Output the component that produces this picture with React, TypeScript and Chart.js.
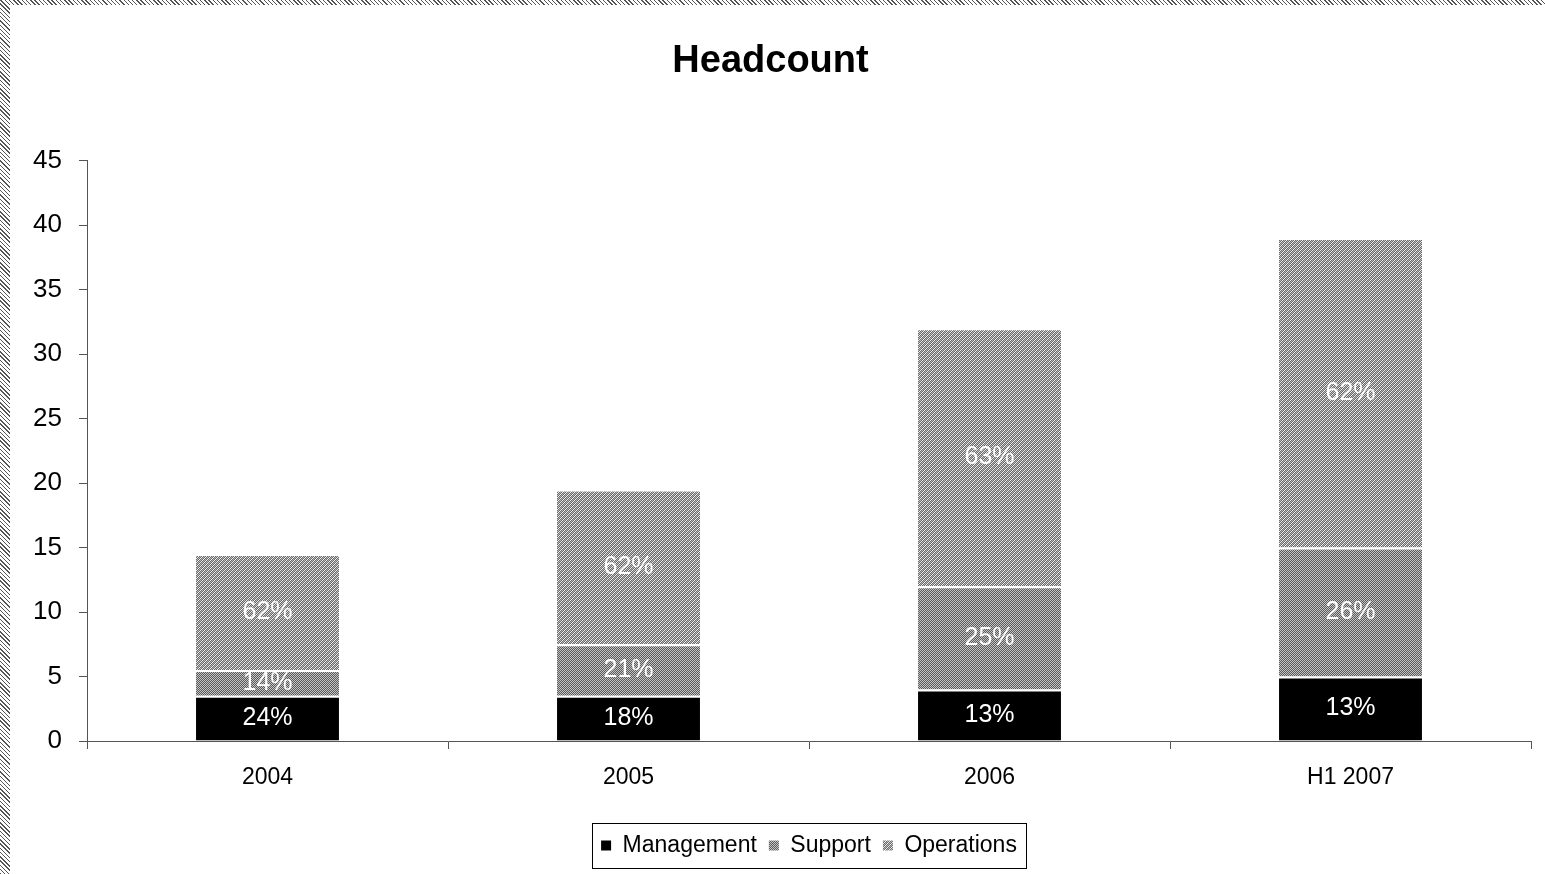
import React, { useEffect, useRef } from "react";
import { Chart, registerables } from "chart.js";

Chart.register(...registerables);

const categories = ["2004", "2005", "2006", "H1 2007"];
const management = [3.5, 3.5, 4, 5];
const support = [2, 4, 8, 10];
const operations = [9, 12, 20, 24];
const managementPct = ["24%", "18%", "13%", "13%"];
const supportPct = ["14%", "21%", "25%", "26%"];
const operationsPct = ["62%", "62%", "63%", "62%"];
const pctLabels = [managementPct, supportPct, operationsPct];

const FONT = '"Liberation Sans", Arial, sans-serif';

function makePattern(kind: "support" | "ops"): CanvasPattern | string {
  const c = document.createElement("canvas");
  const n = 4;
  c.width = n;
  c.height = n;
  const g = c.getContext("2d");
  if (!g) return "#999";
  for (let y = 0; y < n; y++) {
    for (let x = 0; x < n; x++) {
      let col: string;
      if (kind === "support") {
        col = (x + y) % 2 === 0 ? "#5a5a5a" : "#c4c4c4";
      } else {
        if ((x + y) % 4 === 3) col = "#f2f2f2";
        else col = (x + y) % 2 === 0 ? "#6a6a6a" : "#b8b8b8";
      }
      g.fillStyle = col;
      g.fillRect(x, y, 1, 1);
    }
  }
  const p = g.createPattern(c, "repeat");
  return p || "#999";
}

const segLabelPlugin = {
  id: "segLabels",
  afterDatasetsDraw(chart: any) {
    const ctx = chart.ctx;
    ctx.save();
    ctx.font = `25px ${FONT}`;
    ctx.fillStyle = "#ffffff";
    ctx.textAlign = "center";
    ctx.textBaseline = "middle";
    chart.data.datasets.forEach((_ds: any, di: number) => {
      const meta = chart.getDatasetMeta(di);
      meta.data.forEach((el: any, i: number) => {
        const { x, y, base } = el.getProps(["x", "y", "base"], true);
        ctx.fillText(pctLabels[di][i], x, (y + base) / 2);
      });
    });
    ctx.restore();
  },
};

const legendBoxPlugin = {
  id: "legendBox",
  afterDraw(chart: any) {
    const lg = chart.legend;
    if (!lg || !lg.legendHitBoxes || !lg.legendHitBoxes.length) return;
    const hb = lg.legendHitBoxes;
    const left = hb[0].left - 9;
    const last = hb[hb.length - 1];
    const right = last.left + last.width + 9;
    const cy = hb[0].top + hb[0].height / 2;
    const ctx = chart.ctx;
    ctx.save();
    ctx.strokeStyle = "#000";
    ctx.lineWidth = 1;
    ctx.strokeRect(Math.round(left) + 0.5, Math.round(cy - 22.5) + 0.5, Math.round(right - left), 45);
    ctx.restore();
  },
};

export default function App() {
  const ref = useRef<HTMLCanvasElement>(null);

  useEffect(() => {
    if (!ref.current) return;
    const supPat = makePattern("support");
    const opsPat = makePattern("ops");
    const border = { top: 2, left: 0, right: 0, bottom: 0 };
    const chart = new Chart(ref.current, {
      type: "bar",
      data: {
        labels: categories,
        datasets: [
          { label: "Management", data: management, backgroundColor: "#000000", borderColor: "#ffffff", borderWidth: border, borderSkipped: false },
          { label: "Support", data: support, backgroundColor: supPat as any, borderColor: "#ffffff", borderWidth: border, borderSkipped: false },
          { label: "Operations", data: operations, backgroundColor: opsPat as any, borderColor: "#ffffff", borderWidth: border, borderSkipped: false },
        ],
      },
      options: {
        responsive: false,
        devicePixelRatio: 1,
        animation: false,
        layout: { padding: { left: 0, right: 14, top: 0, bottom: 7 } },
        datasets: { bar: { barPercentage: 0.396, categoryPercentage: 1 } },
        plugins: {
          title: {
            display: true,
            text: "Headcount",
            color: "#000",
            font: { family: FONT, size: 38, weight: "bold" },
            padding: { top: 34, bottom: 76 },
          },
          legend: {
            display: true,
            position: "bottom",
            fullSize: false,
            labels: {
              color: "#000",
              font: { family: FONT, size: 23 },
              boxWidth: 10,
              boxHeight: 10,
              padding: 12,
              generateLabels: (c: any) =>
                (Chart.defaults.plugins.legend.labels as any)
                  .generateLabels(c)
                  .map((l: any) => ({ ...l, lineWidth: 0, strokeStyle: "rgba(0,0,0,0)" })),
            },
          },
          tooltip: { enabled: false },
        },
        scales: {
          x: {
            stacked: true,
            grid: { display: true, drawOnChartArea: false, drawTicks: true, tickLength: 8, color: "#555", offset: true },
            border: { display: true, color: "#555", width: 1 },
            ticks: { color: "#000", font: { family: FONT, size: 23 }, padding: 15, maxRotation: 0 },
            afterFit: (s: any) => {
              s.height = 81;
            },
          },
          y: {
            stacked: true,
            min: 0,
            max: 45,
            grid: { display: true, drawOnChartArea: false, drawTicks: true, tickLength: 8, color: "#555" },
            border: { display: true, color: "#555", width: 1 },
            ticks: { stepSize: 5, color: "#000", font: { family: FONT, size: 26 }, padding: 17 },
            afterFit: (s: any) => {
              s.width = 77;
            },
          },
        },
      },
      plugins: [segLabelPlugin, legendBoxPlugin],
    } as any);
    return () => chart.destroy();
  }, []);

  return (
    <div
      style={{
        position: "fixed",
        left: 0,
        top: 0,
        width: 1545,
        height: 874,
        overflow: "hidden",
        background: "repeating-linear-gradient(45deg, #555 0px, #555 1px, #fff 1px, #fff 3px)",
      }}
    >
      <canvas
        ref={ref}
        width={1535}
        height={869}
        style={{ position: "absolute", left: 10, top: 5, width: 1535, height: 869, background: "#fff" }}
      />
    </div>
  );
}
